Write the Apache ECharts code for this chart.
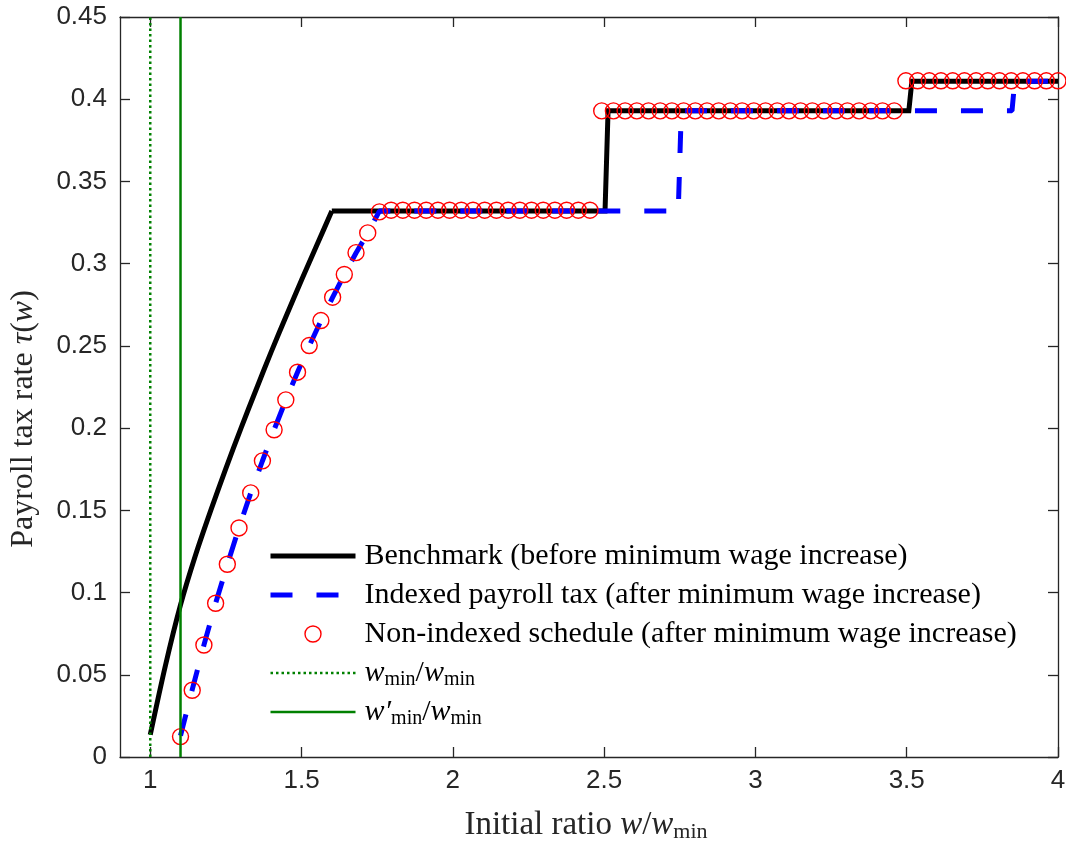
<!DOCTYPE html>
<html>
<head>
<meta charset="utf-8">
<script src="https://cdn.jsdelivr.net/npm/echarts@6/dist/echarts.min.js"></script>
<style>
html,body{margin:0;padding:0;background:#fff;}
#chart{width:1066px;height:845px;}
</style>
</head>
<body>
<div id="chart"></div>
<script>
// ---- data ----
const xTicks = [1, 1.5, 2, 2.5, 3, 3.5, 4];
const yTicks = [0, 0.05, 0.1, 0.15, 0.2, 0.25, 0.3, 0.35, 0.4, 0.45];

const seriesNames = [
  'Benchmark (before minimum wage increase)',
  'Indexed payroll tax (after minimum wage increase)',
  'Non-indexed schedule (after minimum wage increase)',
  'wmin/wmin',
  'wpmin/wmin'
];

// Benchmark (black solid): concave ramp, then steps
const benchRampX = [1.00, 1.05, 1.10, 1.15, 1.20, 1.25, 1.30, 1.35, 1.40, 1.45, 1.50, 1.55, 1.60];
const benchRampY = [0.0135, 0.0555, 0.0925, 0.1230, 0.1500, 0.1755, 0.2000, 0.2235, 0.2465, 0.2685, 0.2900, 0.3110, 0.3320];
const benchStepX = [1.60, 2.503, 2.513, 3.507, 3.517, 4.00];
const benchStepY = [0.332, 0.332, 0.393, 0.393, 0.411, 0.411];

// Indexed payroll tax (blue dashed)
const indexedX = [1.1000, 1.1387, 1.1773, 1.2160, 1.2547, 1.2933, 1.3320, 1.3707, 1.4093, 1.4480, 1.4867, 1.5253, 1.5640, 1.6027, 1.6413, 1.6800, 1.7187, 1.7573, 2.745, 2.755, 3.848, 3.857, 4.00];
const indexedY = [0.0130, 0.0410, 0.0680, 0.0935, 0.1170, 0.1395, 0.1605, 0.1800, 0.1990, 0.2170, 0.2340, 0.2500, 0.2652, 0.2795, 0.2933, 0.3065, 0.3185, 0.3320, 0.332, 0.393, 0.393, 0.411, 0.411];

// Non-indexed schedule (red circles)
const nonIdxX = [1.1000, 1.1387, 1.1773, 1.2160, 1.2547, 1.2933, 1.3320, 1.3707, 1.4093, 1.4480,
  1.4867, 1.5253, 1.5640, 1.6027, 1.6413, 1.6800, 1.7187, 1.7573, 1.7960, 1.8347,
  1.8733, 1.9120, 1.9507, 1.9893, 2.0280, 2.0667, 2.1053, 2.1440, 2.1827, 2.2213,
  2.2600, 2.2987, 2.3373, 2.3760, 2.4147, 2.4533, 2.4920, 2.5307, 2.5693, 2.6080,
  2.6467, 2.6853, 2.7240, 2.7627, 2.8013, 2.8400, 2.8787, 2.9173, 2.9560, 2.9947,
  3.0333, 3.0720, 3.1107, 3.1493, 3.1880, 3.2267, 3.2653, 3.3040, 3.3427, 3.3813,
  3.4200, 3.4587, 3.4973, 3.5360, 3.5747, 3.6133, 3.6520, 3.6907, 3.7293, 3.7680,
  3.8067, 3.8453, 3.8840, 3.9227, 3.9613, 4.0000];
const nonIdxY = [0.0124, 0.0406, 0.0681, 0.0935, 0.1172, 0.1393, 0.1606, 0.1801, 0.1990, 0.2172,
  0.2340, 0.2502, 0.2654, 0.2796, 0.2934, 0.3067, 0.3187, 0.3315, 0.3325, 0.3325,
  0.3325, 0.3325, 0.3325, 0.3325, 0.3325, 0.3325, 0.3325, 0.3325, 0.3325, 0.3325,
  0.3325, 0.3325, 0.3325, 0.3325, 0.3325, 0.3325, 0.3929, 0.3929, 0.3929, 0.3929,
  0.3929, 0.3929, 0.3929, 0.3929, 0.3929, 0.3929, 0.3929, 0.3929, 0.3929, 0.3929,
  0.3929, 0.3929, 0.3929, 0.3929, 0.3929, 0.3929, 0.3929, 0.3929, 0.3929, 0.3929,
  0.3929, 0.3929, 0.4112, 0.4112, 0.4112, 0.4112, 0.4112, 0.4112, 0.4112, 0.4112,
  0.4112, 0.4112, 0.4112, 0.4112, 0.4112, 0.4112];

// vertical reference lines
const wminX = [1.0, 1.0];
const wpminX = [1.1, 1.1];
const vlineY = [0, 0.45];

function pairs(xs, ys) { return xs.map((x, i) => [x, ys[i]]); }

const axisColor = '#262626';
const serif = "'Liberation Serif', 'Times New Roman', serif";
const sans = "'Liberation Sans', Arial, Helvetica, sans-serif";

const richMath = {
  g: { fontFamily: serif, fontSize: 30, lineHeight: 34, width: 4 },
  n: { fontFamily: serif, fontSize: 30, lineHeight: 34, color: '#000' },
  i: { fontFamily: serif, fontSize: 30, fontStyle: 'italic', lineHeight: 34, color: '#000' },
  s: { fontFamily: serif, fontSize: 20, lineHeight: 12, verticalAlign: 'bottom', color: '#000' }
};
const richAxis = {
  n: { fontFamily: serif, fontSize: 33, lineHeight: 36, color: '#262626' },
  i: { fontFamily: serif, fontSize: 33, fontStyle: 'italic', lineHeight: 36, color: '#262626' },
  s: { fontFamily: serif, fontSize: 22, lineHeight: 13, verticalAlign: 'bottom', color: '#262626' }
};
const richAxisY = {
  n: { fontFamily: serif, fontSize: 32, lineHeight: 36, color: '#262626' },
  i: { fontFamily: serif, fontSize: 32, fontStyle: 'italic', lineHeight: 36, color: '#262626' }
};

const fmtNum = v => String(parseFloat(Number(v).toFixed(2)));

const chart = echarts.init(document.getElementById('chart'), null, { renderer: 'canvas' });

const baseX = {
  type: 'value', min: 0.9, max: 4,
  axisLine: { show: true, onZero: false, lineStyle: { color: axisColor, width: 1.3 } },
  axisTick: { show: true, inside: true, length: 10, customValues: xTicks, lineStyle: { color: axisColor, width: 1.3 } },
  splitLine: { show: false }
};
const baseY = {
  type: 'value', min: 0, max: 0.45, interval: 0.05,
  axisLine: { show: true, onZero: false, lineStyle: { color: axisColor, width: 1.3 } },
  axisTick: { show: true, inside: true, length: 10, customValues: yTicks, lineStyle: { color: axisColor, width: 1.3 } },
  splitLine: { show: false }
};

const noSym = { opacity: 0 };

const option = {
  backgroundColor: '#ffffff',
  animation: false,
  grid: { left: 120, right: 8, top: 17, bottom: 88, outerBoundsMode: 'none', containLabel: false },
  xAxis: [
    Object.assign({}, baseX, {
      position: 'bottom',
      axisLabel: { show: true, customValues: xTicks, margin: 11, formatter: fmtNum,
        fontFamily: sans, fontSize: 26, color: axisColor },
      name: '{n|Initial ratio }{i|w}{n|/}{i|w}{s|min}',
      nameLocation: 'middle', nameGap: 50,
      nameTextStyle: { rich: richAxis, padding: [0, 6, 0, 0] }
    }),
    Object.assign({}, baseX, { position: 'top', axisLabel: { show: false } })
  ],
  yAxis: [
    Object.assign({}, baseY, {
      position: 'left',
      axisLabel: { show: true, margin: 13, formatter: fmtNum,
        fontFamily: sans, fontSize: 26, color: axisColor },
      name: '{n|Payroll tax rate }{i|τ}{n|(}{i|w}{n|)}',
      nameLocation: 'middle', nameGap: 78, nameRotate: 90,
      nameTextStyle: { rich: richAxisY, padding: [0, 64, 0, 0] }
    }),
    Object.assign({}, baseY, { position: 'right', axisLabel: { show: false } })
  ],
  legend: {
    orient: 'vertical', left: 268, top: 539, padding: 0,
    itemWidth: 85, itemHeight: 16, itemGap: 5,
    data: [
      { name: seriesNames[0], itemStyle: noSym },
      { name: seriesNames[1], itemStyle: noSym },
      { name: seriesNames[2] },
      { name: seriesNames[3], itemStyle: noSym },
      { name: seriesNames[4], itemStyle: noSym }
    ],
    lineStyle: { width: 'inherit' },
    itemStyle: { borderWidth: 'inherit' },
    textStyle: { fontFamily: serif, fontSize: 30, color: '#000', lineHeight: 34, rich: richMath },
    formatter: function (name) {
      if (name === seriesNames[3]) return '{g| }{i|w}{s|min}{n|/}{i|w}{s|min}';
      if (name === seriesNames[4]) return '{g| }{i|w′}{s|min}{n|/}{i|w}{s|min}';
      return '{g| }{n|' + name + '}';
    }
  },
  series: [
    {
      name: seriesNames[0], type: 'line', data: pairs(benchRampX, benchRampY),
      smooth: 0.3,
      symbol: 'none', lineStyle: { color: '#000000', width: 5 }, itemStyle: { color: '#000000' }, z: 2
    },
    {
      name: seriesNames[0], type: 'line', data: pairs(benchStepX, benchStepY),
      symbol: 'none', lineStyle: { color: '#000000', width: 5, join: 'miter' }, itemStyle: { color: '#000000' }, z: 2
    },
    {
      name: seriesNames[1], type: 'line', data: pairs(indexedX, indexedY),
      symbol: 'none', lineStyle: { color: '#0000ff', width: 5, type: [22, 24] }, itemStyle: { color: '#0000ff' }, z: 3
    },
    {
      name: seriesNames[2], type: 'scatter', data: pairs(nonIdxX, nonIdxY),
      symbol: 'circle', symbolSize: 16,
      itemStyle: { color: 'rgba(255,255,255,0)', borderColor: '#ff0000', borderWidth: 1.4, opacity: 1 }, z: 4
    },
    {
      name: seriesNames[3], type: 'line', data: pairs(wminX, vlineY),
      symbol: 'none', lineStyle: { color: '#008000', width: 2.5, type: [2.5, 3] }, itemStyle: { color: '#008000' }, z: 5
    },
    {
      name: seriesNames[4], type: 'line', data: pairs(wpminX, vlineY),
      symbol: 'none', lineStyle: { color: '#008000', width: 2.5 }, itemStyle: { color: '#008000' }, z: 5
    }
  ]
};
chart.setOption(option);
</script>
</body>
</html>
